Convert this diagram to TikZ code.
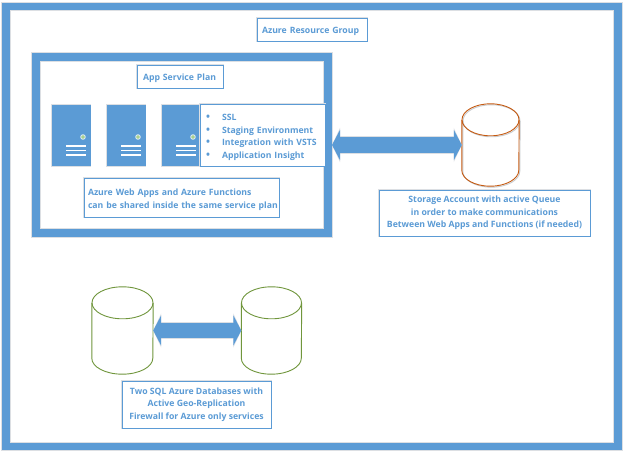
\documentclass[tikz,border=0pt]{standalone}
\usepackage{fontspec}
\setmainfont{Open Sans}
\usetikzlibrary{arrows.meta,calc}
\definecolor{azb}{HTML}{5B9BD5}
\definecolor{halo}{HTML}{DCDFE3}
\definecolor{stg}{HTML}{C55A11}
\definecolor{dbg}{HTML}{70963C}
\definecolor{lampg}{HTML}{A9D18E}
\tikzset{
  x=1pt,y=-1pt,
  frame/.style={draw=azb,line width=#1,preaction={draw=halo,line width=#1+2pt},fill=none,inner sep=0pt},
  label box/.style={draw=azb,line width=0.9pt,fill=white,text=azb,font=\fontsize{8.7}{12.6}\selectfont\bfseries,align=center,inner sep=0pt,preaction={draw=halo,line width=1.8pt},execute at begin node={\rule{0pt}{11pt}}},
  server/.style={fill=azb,draw=none,minimum width=39pt,minimum height=60.5pt,inner sep=0pt,preaction={draw=halo,line width=1.6pt}},
  slot/.style={draw=white,line width=1.1pt},
  lamp/.style={circle,fill=lampg,draw=white!85!azb,line width=0.8pt,inner sep=0pt,minimum size=4.6pt},
  cylbox/.style={draw=none,inner sep=0pt,minimum width=#1},
  link/.style={draw=azb,line width=16pt,{Triangle[length=8pt,width=30pt]}-{Triangle[length=8pt,width=30pt]}},
  linkhalo/.style={draw=halo,line width=18pt,{Triangle[length=8pt,width=34pt]}-{Triangle[length=8pt,width=34pt]}},
}
\newcommand{\cylpath}[3]{% node, colour, line width
  \draw[#2,line width=#3] ([yshift=-16pt]#1.north) ellipse ({0.5*\csname cylw#1\endcsname pt} and 16pt);
  \draw[#2,line width=#3] ([yshift=-16pt]#1.north west) -- ([yshift=16pt]#1.south west)
     arc (180:360:{0.5*\csname cylw#1\endcsname pt} and 16pt) -- ([yshift=-16pt]#1.north east);
}
\newcommand{\srvinner}[1]{%
  \node[lamp] (#1l) at ([shift={(12pt,-1.5pt)}]#1.center) {};
  \foreach \dy/\nm in {10.5/a,15/b,19.5/c}{
    \node[inner sep=0pt,minimum size=0pt] (#1\nm w) at ([shift={(-5pt,-\dy pt)}]#1.center) {};
    \node[inner sep=0pt,minimum size=0pt] (#1\nm e) at ([shift={(15pt,-\dy pt)}]#1.center) {};
    \draw[slot] (#1\nm w) -- (#1\nm e);
  }
}
\newcommand{\bul}{\hspace*{15pt}\llap{\fontsize{10.5}{12.6}\selectfont•\hspace{12pt}}}
\begin{document}
\begin{tikzpicture}
\useasboundingbox (0,0) rectangle (624,454);
\fill[white] (0,0) rectangle (624,454);
% outer group
\node[frame=7.5pt,minimum width=612pt,minimum height=440pt] (group) at (312,226.5) {};
\node[label box,minimum width=110pt,minimum height=23pt,text width=100pt,align=left] (grouplabel) at (312,29.5) {Azure Resource Group};
% service plan
\node[frame=8pt,minimum width=292pt,minimum height=176pt] (plan) at (182,145) {};
\node[label box,minimum width=86pt,minimum height=23pt,text width=74pt,align=left] (planlabel) at (180,76.5) {App Service Plan};
% servers
\node[server] (s1) at (71,135.5) {};
\node[server] (s2) at (126,135.5) {};
\node[server] (s3) at (181,135.5) {};
\srvinner{s1}\srvinner{s2}\srvinner{s3}
% features
\node[label box,minimum width=125pt,minimum height=62pt,text width=111pt,align=left,execute at begin node={\rule{0pt}{8.5pt}}] (features) at (262.5,135)
  {\bul SSL\\\bul Staging Environment\\\bul Integration with VSTS\\\bul Application Insight};
\node[label box,minimum width=195pt,minimum height=39pt,text width=187pt,align=left] (shared) at (181.5,197.5)
  {\mbox{Azure Web Apps and Azure Functions}\\\mbox{can be shared inside the same service plan}};
% storage
\expandafter\def\csname cylwstore\endcsname{57}
\node[cylbox=57pt,minimum height=82pt] (store) at (490.5,145) {};
\node[cylbox=57pt,minimum height=82pt] (storeshadow) at (491.5,146) {};
\expandafter\def\csname cylwstoreshadow\endcsname{57}
\cylpath{storeshadow}{halo!80!gray}{0.9pt}
\cylpath{store}{stg}{0.9pt}
\draw[linkhalo] (plan.east) -- (store.west);
\draw[link] (plan.east) -- (store.west);
\node[label box,minimum width=211pt,minimum height=46pt] (storelabel) at (484.5,213)
  {Storage Account with active Queue\\in order to make communications\\Between Web Apps and Functions (if needed)};
% databases
\expandafter\def\csname cylwdbone\endcsname{61}
\expandafter\def\csname cylwdbtwo\endcsname{60}
\node[cylbox=61pt,minimum height=87pt] (dbone) at (122.5,330.5) {};
\node[cylbox=60pt,minimum height=87pt] (dbtwo) at (271.5,330.5) {};
\cylpath{dbone}{dbg}{0.9pt}
\cylpath{dbtwo}{dbg}{0.9pt}
\draw[linkhalo,line width=17pt] (dbone.east) -- (dbtwo.west);
\draw[link,line width=15pt] (dbone.east) -- (dbtwo.west);
\node[label box,minimum width=149pt,minimum height=47pt] (dblabel) at (196.5,404.5)
  {Two SQL Azure Databases with\\Active Geo-Replication\\Firewall for Azure only services};
\end{tikzpicture}
\end{document}
